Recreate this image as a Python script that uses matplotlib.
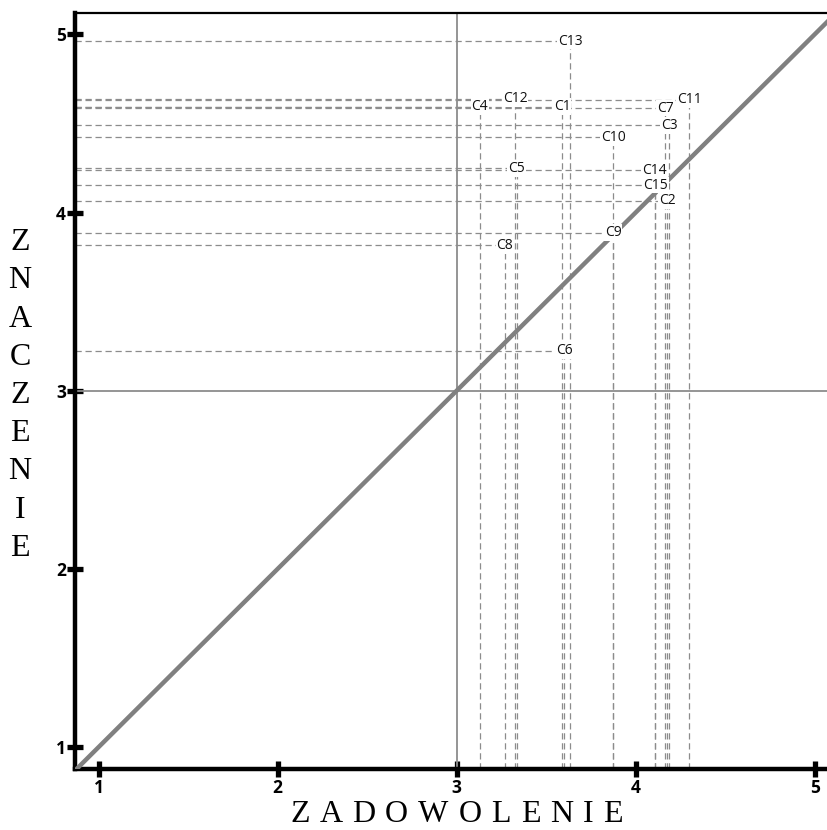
import matplotlib.pyplot as plt

# zadowolenie (x) i znaczenie (y) dla kryteriów C1..C15
labels = ["C1", "C2", "C3", "C4", "C5", "C6", "C7", "C8",
          "C9", "C10", "C11", "C12", "C13", "C14", "C15"]
zadowolenie = [3.59, 4.175, 4.186, 3.13, 3.335, 3.60, 4.165, 3.27,
               3.875, 3.875, 4.30, 3.326, 3.635, 4.106, 4.11]
znaczenie = [4.594, 4.065, 4.489, 4.594, 4.248, 3.224, 4.586, 3.816,
             3.887, 4.422, 4.632, 4.639, 4.962, 4.237, 4.154]
ticks = [1, 2, 3, 4, 5]

x0, x1 = 0.868, 5.069
y0, y1 = 0.877, 5.12

fig = plt.figure(figsize=(8.27, 8.30), dpi=100)
ax = fig.add_axes([75 / 827, 61 / 830, 752 / 827, 756 / 830])
ax.set_xlim(x0, x1)
ax.set_ylim(y0, y1)

# linie pomocnicze do osi
for lab, x, y in zip(labels, zadowolenie, znaczenie):
    ax.plot([x0, x], [y, y], color='#8c8c8c', lw=0.9, ls=(0, (5, 3)), zorder=1)
    ax.plot([x, x], [y0, y], color='#8c8c8c', lw=0.9, ls=(0, (5, 3)), zorder=1)

ax.axvline(3, color='#8c8c8c', lw=1.3, zorder=2)
ax.axhline(3, color='#8c8c8c', lw=1.3, zorder=2)
ax.plot([x0, x1], [x0, x1], color='#808080', lw=3.2, zorder=3)

for lab, x, y in zip(labels, zadowolenie, znaczenie):
    ax.text(x, y, lab, ha='center', va='center', fontsize=10, family='Open Sans',
            color='#111111', zorder=4,
            bbox=dict(facecolor='white', edgecolor='none', pad=0.6))

for s in ['left', 'bottom']:
    ax.spines[s].set_linewidth(3.2)
ax.spines['top'].set_linewidth(1.6)
ax.spines['right'].set_visible(False)

ax.set_xticks(ticks)
ax.set_yticks(ticks)
ax.tick_params(direction='inout', length=11, width=3.8, color='black',
               labelsize=12.5)
ax.tick_params(axis='x', pad=2)
ax.tick_params(axis='y', pad=1)
for t in ax.get_xticklabels() + ax.get_yticklabels():
    t.set_family('Open Sans')
    t.set_fontweight('bold')

# rozstrzelony podpis osi X: litery rozłożone równo między 290 a 623 px
xlab = "ZADOWOLENIE"
renderer = fig.canvas.get_renderer()
letters = []
for ch in xlab:
    t = fig.text(0, 1 / 830, ch, ha='left', va='bottom',
                 fontsize=23, family='Liberation Serif')
    letters.append(t)
widths = [t.get_window_extent(renderer).width for t in letters]
gap = (623 - 290 - sum(widths)) / (len(xlab) - 1)
pos = 290
for t, w in zip(letters, widths):
    t.set_x(pos / 827)
    pos += w + gap

fig.text(20 / 827, 1 - 395.5 / 830, "\n".join("ZNACZENIE"), ha='center', va='center',
         fontsize=23, family='Liberation Serif', linespacing=1.42)

fig.savefig('out.png', dpi=100)
